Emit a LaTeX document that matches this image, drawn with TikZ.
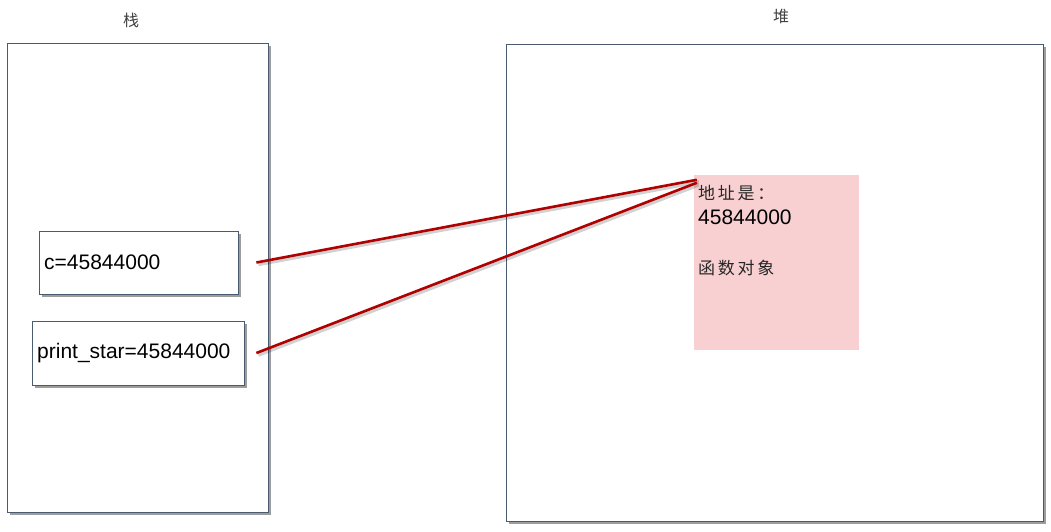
\documentclass[tikz,border=0pt]{standalone}
\usepackage{fontspec}
\setmainfont{Liberation Sans}
\newfontfamily\cjk[LetterSpace=16]{Noto Sans CJK SC}
\usetikzlibrary{shadows}
\definecolor{boxline}{HTML}{4A5A70}
\definecolor{pinkfill}{HTML}{F8D0D2}
\definecolor{linkred}{HTML}{B00000}
\tikzset{
  bigbox/.style={draw=boxline, line width=0.8pt, fill=white, inner sep=0,
    drop shadow={shadow xshift=3pt, shadow yshift=-3pt, opacity=0.55, fill=black!70}},
  varbox/.style={draw=boxline, line width=0.8pt, fill=white, inner sep=0,
    drop shadow={shadow xshift=3pt, shadow yshift=-3pt, opacity=0.55, fill=black!70}},
  title/.style={font=\cjk\fontsize{16}{19}\selectfont, text=black!75},
  vartext/.style={font=\fontsize{21}{24}\selectfont, anchor=west, inner sep=0},
  cjktext/.style={font=\cjk\fontsize{17}{20}\selectfont, anchor=west, inner sep=0, text=black!85},
  link/.style={draw=linkred, line width=2.6pt,
    preaction={draw=black, opacity=0.18, line width=3.5pt, transform canvas={shift={(2pt,-2pt)}}}}
}
\begin{document}
\begin{tikzpicture}[x=1pt,y=-1pt]
\useasboundingbox (0,0) rectangle (1051,532);
% stack
\node[bigbox, minimum width=261pt, minimum height=469pt] (stack) at (137.5,277.5) {};
\node[title] (stacktitle) at (131,20) {栈};
% heap
\node[bigbox, minimum width=537pt, minimum height=477pt] (heap) at (774.5,282.5) {};
\node[title] (heaptitle) at (781,16) {堆};
% variables
\node[varbox, minimum width=199pt, minimum height=63pt] (c) at (138.5,262.5) {};
\node[vartext] (ctext) at (44,262) {c=45844000};
\node[varbox, minimum width=212pt, minimum height=64pt] (ps) at (138,353) {};
\node[vartext] (pstext) at (37,353) {print\_star=45844000};
% object
\node[fill=pinkfill, minimum width=165pt, minimum height=175pt, inner sep=0] (obj) at (776.5,262.5) {};
\node[cjktext] (addr) at (698,193) {地址是：};
\node[vartext] (num) at (698,217) {45844000};
\node[cjktext] (fn) at (698,268) {函数对象};
% links
\coordinate (cs) at ([xshift=18pt]c.east);
\coordinate (pss) at ([xshift=12pt]ps.east);
\coordinate (t1) at ([xshift=3pt,yshift=-5pt]obj.north west);
\coordinate (t2) at ([xshift=3pt,yshift=-8pt]obj.north west);
\draw[link] (cs) -- (t1);
\draw[link] (pss) -- (t2);
\end{tikzpicture}
\end{document}
